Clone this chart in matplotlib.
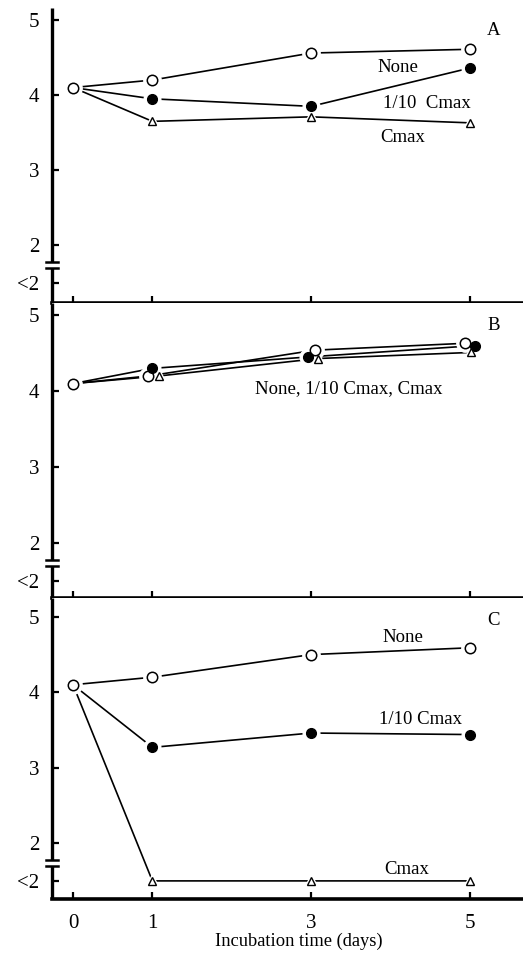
import matplotlib
matplotlib.use("Agg")
import matplotlib.pyplot as plt
import numpy as np

plt.rcParams['font.family'] = ['Liberation Serif', 'DejaVu Serif']

# ---- data ----
days = [0, 1, 3, 5]
BELOW = 1.5  # plotting position of "<2" (below detection)
A_none = [4.10, 4.20, 4.56, 4.61]
A_tenth = [4.10, 3.95, 3.85, 4.36]
A_cmax = [4.10, 3.65, 3.71, 3.63]
B_none = [4.10, 4.20, 4.54, 4.63]
B_tenth = [4.10, 4.30, 4.45, 4.60]
B_cmax = [4.10, 4.20, 4.43, 4.51]
C_none = [4.10, 4.20, 4.50, 4.59]
C_tenth = [4.10, 3.27, 3.46, 3.44]
C_cmax = [4.10, BELOW, BELOW, BELOW]
ytick_vals = [BELOW, 2, 3, 4, 5]
ytick_labels = ['<2', '2', '3', '4', '5']
xtick_vals = [0, 1, 3, 5]

# small horizontal dodge used in panel B (overlapping points)
B_dodge = {'none': [0, -0.05, 0.05, -0.06],
           'tenth': [0, 0.0, -0.04, 0.07],
           'cmax': [0, 0.08, 0.09, 0.02]}

W, H = 523, 956
fig = plt.figure(figsize=(W / 100, H / 100), dpi=100)

def axrect(top_px, bot_px):
    return [52 / W, 1 - bot_px / H, 1 - 52 / W, (bot_px - top_px) / H]

panels = [
    dict(rect=axrect(8, 303), ylim=(1.23, 5.16), letter='A',
         data=[('none', A_none), ('tenth', A_tenth), ('cmax', A_cmax)], dodge=None),
    dict(rect=axrect(303, 598), ylim=(1.28, 5.16), letter='B',
         data=[('none', B_none), ('tenth', B_tenth), ('cmax', B_cmax)], dodge=B_dodge),
    dict(rect=axrect(598, 899), ylim=(1.26, 5.25), letter='C',
         data=[('none', C_none), ('tenth', C_tenth), ('cmax', C_cmax)], dodge=None),
]

mstyle = {
    'none': dict(marker='o', ms=7.5, mfc='white', mec='black', mew=1.1),
    'tenth': dict(marker='o', ms=7.0, mfc='black', mec='black', mew=1.0),
    'cmax': dict(marker='^', ms=5.5, mfc='white', mec='black', mew=1.0),
}

axes = []
for i, p in enumerate(panels):
    ax = fig.add_axes(p['rect'])
    axes.append(ax)
    ax.set_xlim(-0.265, 5.67)
    ax.set_ylim(*p['ylim'])
    for s in ['top', 'right', 'left']:
        ax.spines[s].set_visible(False)
    ax.spines['bottom'].set_linewidth(2.6)
    ax.set_xticks(xtick_vals)
    ax.set_yticks(ytick_vals)
    ax.set_yticklabels(ytick_labels)
    ax.tick_params(axis='y', direction='in', length=5, width=1.6, pad=9, labelsize=15)
    ax.tick_params(axis='x', direction='in', length=5, width=1.6, pad=11, labelsize=15)
    if i < 2:
        ax.set_xticklabels([])
    # broken y axis line
    tr = ax.get_yaxis_transform()
    b_lo, b_hi = 1.70, 1.78
    ax.plot([0, 0], [p['ylim'][0], b_lo], color='black', lw=2.4, transform=tr,
            clip_on=False, solid_capstyle='butt', zorder=5)
    ax.plot([0, 0], [b_hi, p['ylim'][1]], color='black', lw=2.4, transform=tr,
            clip_on=False, solid_capstyle='butt', zorder=5)
    for yb in (b_lo, b_hi):
        ax.plot([-0.012, 0.012], [yb, yb], color='black', lw=1.8, transform=tr,
                clip_on=False, zorder=5)

    for key, vals in p['data']:
        xs = np.array(days, dtype=float)
        if p['dodge'] is not None:
            xs = xs + np.array(p['dodge'][key])
        ax.plot(xs, vals, color='black', lw=1.2, zorder=2)
    for key, vals in p['data']:
        xs = np.array(days, dtype=float)
        if p['dodge'] is not None:
            xs = xs + np.array(p['dodge'][key])
        st = mstyle[key]
        sl = slice(0, None) if key == 'none' else slice(1, None)
        ax.plot(xs[sl], np.array(vals)[sl], ls='none', marker=st['marker'],
                ms=st['ms'] + 5, mfc='white', mec='white', zorder=3)
    for key, vals in p['data']:
        xs = np.array(days, dtype=float)
        if p['dodge'] is not None:
            xs = xs + np.array(p['dodge'][key])
        st = mstyle[key]
        sl = slice(0, None) if key == 'none' else slice(1, None)
        ax.plot(xs[sl], np.array(vals)[sl], ls='none', zorder=4, **st)

    ax.text(5.30, p['ylim'][1] - 0.30, p['letter'], fontsize=13.5, ha='center', va='center')

fs = 13.5
axA, axB, axC = axes
axA.text(4.09, 4.37, 'None', fontsize=fs, ha='center', va='center')
axA.text(4.46, 3.89, '1/10  Cmax', fontsize=fs, ha='center', va='center')
axA.text(4.16, 3.44, 'Cmax', fontsize=fs, ha='center', va='center')
axB.text(3.47, 4.04, 'None, 1/10 Cmax, Cmax', fontsize=fs, ha='center', va='center')
axC.text(4.16, 4.72, 'None', fontsize=fs, ha='center', va='center')
axC.text(4.38, 3.64, '1/10 Cmax', fontsize=fs, ha='center', va='center')
axC.text(4.20, 1.65, 'Cmax', fontsize=fs, ha='center', va='center')

fig.text(299 / W, 1 - 941 / H, 'Incubation time (days)', fontsize=13.3, ha='center', va='center')

fig.savefig('out.png', dpi=100)
